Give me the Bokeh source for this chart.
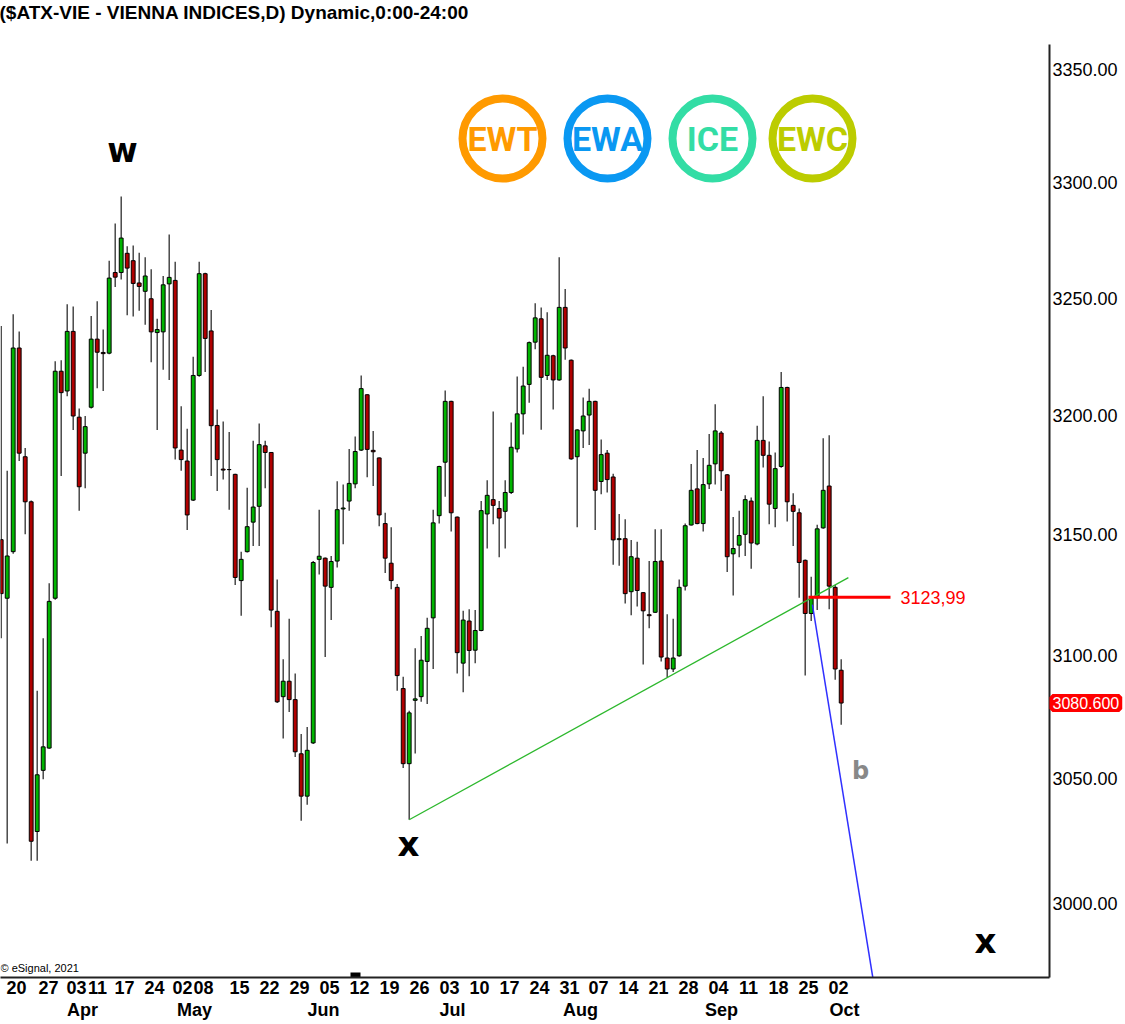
import math
from bokeh.plotting import figure
from bokeh.models import (Range1d, FixedTicker, PrintfTickFormatter, Label, LabelSet,
                          ColumnDataSource, LinearAxis)
from bokeh.core.properties import value
from bokeh.embed import file_html
from bokeh.resources import INLINE

# ---------------- data (daily candles) ----------------
opens = [3147.9, 3123.6, 3142.9, 3228.7, 3182.6, 3163.7, 3028.7, 3053.3, 3062.3, 3123.6,
         3218.8, 3210.4, 3235.8, 3199.3, 3184.1, 3203.5, 3232.5, 3226.8, 3226.5, 3261.1,
         3261.1, 3269.4, 3266.2, 3256.6, 3253.0, 3249.8, 3235.3, 3235.6, 3256.2, 3257.7,
         3185.4, 3180.8, 3164.4, 3217.0, 3260.6, 3236.0, 3195.8, 3177.4, 3177.2, 3175.2,
         3130.9, 3142.9, 3155.2, 3161.8, 3187.2, 3184.4, 3118.2, 3083.2, 3089.5, 3082.0,
         3060.0, 3042.9, 3064.4, 3139.7, 3140.2, 3128.1, 3139.0, 3160.7, 3164.0, 3171.2,
         3185.4, 3208.8, 3185.3, 3182.1, 3154.6, 3138.1, 3128.1, 3086.5, 3056.0, 3081.7,
         3083.2, 3097.6, 3115.5, 3157.9, 3180.3, 3206.0, 3157.3, 3096.9, 3114.2, 3102.2,
         3110.3, 3158.6, 3164.6, 3160.9, 3159.7, 3167.6, 3185.9, 3200.7, 3213.2, 3231.2,
         3241.2, 3217.0, 3225.4, 3215.1, 3246.1, 3223.5, 3182.6, 3193.5, 3200.2, 3206.0,
         3172.2, 3184.1, 3174.1, 3147.9, 3148.3, 3126.3, 3140.2, 3125.9, 3116.8, 3117.8,
         3139.0, 3099.0, 3094.5, 3099.9, 3128.6, 3154.0, 3169.1, 3154.6, 3171.2, 3179.6,
         3192.6, 3175.0, 3142.0, 3145.6, 3150.1, 3164.0, 3146.1, 3189.5, 3183.2, 3160.9,
         3178.5, 3211.9, 3162.2, 3159.1, 3139.3, 3117.3, 3123.8, 3152.8, 3170.3, 3128.1,
         3094.0]
highs = [3238.1, 3176.7, 3243.1, 3235.8, 3186.3, 3164.2, 3085.6, 3107.1, 3129.8, 3223.1,
         3223.5, 3247.4, 3246.5, 3203.0, 3199.8, 3242.4, 3248.7, 3236.6, 3266.2, 3282.3,
         3294.0, 3272.5, 3272.8, 3269.6, 3267.7, 3262.5, 3241.2, 3259.6, 3277.5, 3265.7,
         3203.9, 3194.4, 3225.0, 3265.7, 3261.0, 3245.0, 3202.6, 3197.5, 3193.0, 3175.4,
         3142.9, 3169.6, 3189.3, 3196.6, 3189.3, 3184.6, 3131.3, 3098.5, 3115.1, 3092.7,
         3068.0, 3070.9, 3139.0, 3160.4, 3140.5, 3141.1, 3172.3, 3170.9, 3185.9, 3191.1,
         3217.0, 3209.0, 3193.5, 3182.3, 3159.1, 3153.1, 3129.5, 3091.3, 3077.5, 3103.0,
         3108.0, 3115.5, 3160.4, 3178.8, 3210.6, 3206.3, 3157.6, 3118.4, 3119.1, 3118.7,
         3164.0, 3172.7, 3201.7, 3164.0, 3172.7, 3197.1, 3216.6, 3220.7, 3231.5, 3247.9,
         3246.1, 3244.0, 3225.8, 3267.7, 3254.0, 3223.8, 3194.2, 3207.6, 3211.4, 3206.3,
         3189.9, 3185.4, 3175.4, 3158.6, 3156.4, 3147.8, 3147.0, 3126.2, 3139.0, 3152.2,
         3152.2, 3117.0, 3115.1, 3131.3, 3154.6, 3179.6, 3185.4, 3182.1, 3192.2, 3204.8,
         3193.5, 3175.3, 3157.3, 3160.0, 3166.4, 3165.5, 3195.7, 3208.2, 3189.0, 3184.4,
         3218.5, 3212.2, 3167.3, 3160.9, 3139.6, 3132.5, 3154.1, 3190.4, 3191.7, 3129.1,
         3098.5]
lows = [3107.1, 3023.9, 3142.0, 3180.8, 3150.1, 3017.0, 3017.0, 3049.7, 3062.0, 3123.0,
        3174.5, 3208.2, 3193.9, 3160.0, 3169.4, 3203.0, 3211.6, 3210.4, 3226.0, 3254.9,
        3258.1, 3242.7, 3242.2, 3244.6, 3238.6, 3222.6, 3193.9, 3219.4, 3215.1, 3181.4,
        3176.7, 3151.9, 3164.0, 3216.5, 3218.5, 3174.5, 3168.2, 3173.0, 3160.4, 3129.1,
        3116.4, 3142.5, 3145.3, 3145.3, 3169.4, 3111.6, 3080.6, 3066.2, 3077.0, 3058.7,
        3033.0, 3039.4, 3064.0, 3133.4, 3099.4, 3114.6, 3136.3, 3146.0, 3160.0, 3169.4,
        3185.0, 3174.0, 3170.3, 3153.5, 3134.0, 3127.3, 3085.6, 3054.2, 3033.4, 3060.1,
        3081.1, 3080.2, 3094.5, 3154.6, 3165.8, 3151.3, 3092.7, 3085.0, 3091.5, 3096.9,
        3110.0, 3144.2, 3154.3, 3140.6, 3144.2, 3167.0, 3184.4, 3192.0, 3205.4, 3228.2,
        3194.0, 3215.1, 3202.6, 3214.7, 3223.7, 3181.3, 3153.1, 3186.3, 3187.5, 3151.9,
        3166.9, 3167.6, 3137.5, 3137.0, 3121.4, 3116.6, 3120.2, 3096.3, 3111.2, 3117.5,
        3097.6, 3091.0, 3093.3, 3099.5, 3126.8, 3153.8, 3154.3, 3151.3, 3169.1, 3170.9,
        3168.2, 3134.5, 3124.7, 3140.6, 3141.1, 3135.8, 3145.6, 3178.1, 3154.3, 3153.1,
        3178.0, 3155.5, 3145.3, 3123.8, 3091.8, 3114.2, 3118.7, 3152.4, 3119.1, 3090.1,
        3071.8]
closes = [3125.5, 3141.1, 3228.7, 3184.1, 3163.7, 3024.8, 3051.5, 3062.8, 3122.3, 3218.8,
          3209.7, 3235.8, 3199.8, 3170.0, 3195.3, 3232.5, 3226.9, 3226.3, 3258.7, 3259.1,
          3276.0, 3263.0, 3256.4, 3255.1, 3259.6, 3235.6, 3236.6, 3255.8, 3259.0, 3186.3,
          3181.4, 3158.2, 3217.0, 3260.6, 3232.8, 3195.7, 3181.4, 3177.0, 3177.2, 3132.2,
          3139.7, 3153.3, 3161.5, 3187.7, 3184.4, 3118.7, 3081.1, 3089.5, 3082.0, 3060.8,
          3042.9, 3061.4, 3138.4, 3141.0, 3128.6, 3138.8, 3160.4, 3161.1, 3171.4, 3184.8,
          3211.4, 3185.7, 3184.7, 3158.2, 3140.2, 3130.9, 3091.8, 3056.0, 3076.6, 3082.3,
          3098.1, 3111.2, 3154.9, 3178.5, 3206.0, 3159.1, 3101.2, 3114.6, 3102.1, 3110.3,
          3160.0, 3166.4, 3162.2, 3156.9, 3167.6, 3186.6, 3200.7, 3212.5, 3231.0, 3241.6,
          3216.2, 3225.6, 3215.1, 3246.1, 3228.7, 3181.7, 3193.9, 3199.8, 3206.0, 3168.5,
          3183.5, 3173.0, 3147.8, 3148.3, 3125.5, 3140.8, 3126.8, 3118.4, 3116.4, 3138.8,
          3099.4, 3094.5, 3099.0, 3128.1, 3153.7, 3168.5, 3154.6, 3170.9, 3179.0, 3193.5,
          3176.7, 3140.8, 3144.2, 3149.6, 3164.6, 3146.5, 3189.5, 3183.2, 3162.7, 3177.6,
          3211.9, 3163.7, 3159.7, 3138.4, 3117.3, 3123.6, 3152.4, 3168.5, 3128.6, 3094.5,
          3080.6]

day_tick_pos = [2.55, 7.88, 12.55, 16.05, 20.55, 25.55, 30.22, 33.72, 39.72, 44.72,
                49.72, 54.72, 59.72, 64.72, 69.72, 74.72, 79.72, 84.72, 89.72, 94.72,
                99.55, 104.55, 109.55, 114.55, 119.55, 124.55, 129.55, 134.55, 139.55]
day_tick_labels = ["20", "27", "03", "11", "17", "24", "02", "08", "15", "22",
                   "29", "05", "12", "19", "26", "03", "10", "17", "24", "31",
                   "07", "14", "21", "28", "04", "11", "18", "25", "02"]
month_pos = [13.55, 32.22, 53.72, 75.22, 96.55, 120.05, 140.55]
month_labels = ["Apr", "May", "Jun", "Jul", "Aug", "Sep", "Oct"]
price_ticks = [3000, 3050, 3100, 3150, 3200, 3250, 3300, 3350]

last_price = 3080.6
level_price = 3123.99
trend_anchor_idx = [68, 111]          # the two lows the green trend line joins
trend_end_idx = 141.2
proj_x = [135.2, 146.7]                # blue projection line
proj_y = [3121.0, 2950.0]

logo_texts = ["EWT", "EWA", "ICE", "EWC"]
logo_colors = ["#FF9A00", "#0A98F2", "#33DDA5", "#BCCC00"]

# ---------------- geometry helpers (pixel layout of the reference) ----------------
X0, DX = 0.7, 6.0
def sx(px):
    return (px - X0) / DX
def sy(py):
    return 3000.0 * math.exp((903.0 - py) / 7561.0)

FONT = "Liberation Sans"
TOP, BOTTOM, RIGHT = 44, 977, 1049
FW, FH = RIGHT, BOTTOM - TOP

p = figure(frame_width=FW, frame_height=FH, y_axis_type="log", y_axis_location="right",
           x_range=Range1d(sx(0), sx(RIGHT)), y_range=Range1d(sy(BOTTOM), sy(TOP)),
           output_backend="svg", toolbar_location=None,
           min_border_left=0, min_border_top=TOP, min_border_right=1125 - RIGHT,
           min_border_bottom=1024 - BOTTOM)
p.outline_line_color = None
p.background_fill_color = "white"
p.border_fill_color = "white"
p.xgrid.visible = False
p.ygrid.visible = False

# price axis (right)
ya = p.yaxis[0]
ya.ticker = FixedTicker(ticks=price_ticks)
ya.formatter = PrintfTickFormatter(format="%.2f")
ya.major_label_text_font = FONT
ya.major_label_text_font_size = "18px"
ya.major_label_text_color = "black"
ya.axis_line_color = "#222222"
ya.axis_line_width = 2
ya.major_tick_line_color = None
ya.minor_tick_line_color = None
ya.major_tick_out = 0
ya.major_tick_in = 0
ya.minor_tick_out = 0
ya.major_label_standoff = 3

# time axis (day numbers)
xa = p.xaxis[0]
xa.ticker = FixedTicker(ticks=day_tick_pos)
xa.major_label_overrides = {pos: lab for pos, lab in zip(day_tick_pos, day_tick_labels)}
xa.major_label_text_font = FONT
xa.major_label_text_font_size = "18px"
xa.major_label_text_font_style = "bold"
xa.major_label_text_color = "black"
xa.axis_line_color = "#222222"
xa.axis_line_width = 2
xa.major_tick_line_color = None
xa.minor_tick_line_color = None
xa.major_tick_out = 0
xa.major_tick_in = 0
xa.minor_tick_out = 0
xa.major_label_standoff = 3

# month names under the day numbers
mx = LinearAxis(ticker=FixedTicker(ticks=month_pos),
                major_label_overrides={pos: lab for pos, lab in zip(month_pos, month_labels)},
                axis_line_color=None, major_tick_line_color=None, minor_tick_line_color=None,
                major_tick_out=0, major_tick_in=0, minor_tick_out=0, major_label_standoff=3,
                major_label_text_font=FONT, major_label_text_font_size="18px",
                major_label_text_font_style="bold", major_label_text_color="black")
p.add_layout(mx, "below")

# candles
n = len(opens)
idx = list(range(n))
tops = [max(o, c) for o, c in zip(opens, closes)]
bots = [min(o, c) for o, c in zip(opens, closes)]
cols = ["#00B400" if c >= o else "#B00000" for o, c in zip(opens, closes)]
src = ColumnDataSource(dict(x=idx, o=opens, h=highs, l=lows, c=closes, top=tops, bot=bots, col=cols))
p.segment(x0="x", y0="l", x1="x", y1="h", source=src, line_color="#3c3c3c", line_width=1.4)
p.vbar(x="x", width=0.64, top="top", bottom="bot", source=src,
       fill_color="col", line_color="black", line_width=1)

# green trend line through two lows, extended
i0, i1 = trend_anchor_idx
l0, l1 = lows[i0], lows[i1]
slope = (math.log(l1) - math.log(l0)) / (i1 - i0)
t_end = math.exp(math.log(l0) + slope * (trend_end_idx - i0))
p.line([i0, trend_end_idx], [l0, t_end], line_color="#2DB82D", line_width=1.3)

# red level line + label
p.line([sx(808), sx(890)], [level_price, level_price], line_color="#FF0000", line_width=3)
p.add_layout(Label(x=sx(900), y=level_price, text="3123,99", text_color="#FF0000",
                   text_font=FONT, text_font_size="18px", text_baseline="middle", text_align="left"))

# blue projection line
p.line(proj_x, proj_y, line_color="#3030FF", line_width=1.5)

# wave labels
for t, px, py, col, fs in [("w", 122, 150, "black", "33px"), ("x", 408, 843, "black", "34px"),
                           ("x", 985, 940, "black", "34px"), ("b", 860, 770, "#888888", "24px")]:
    p.add_layout(Label(x=sx(px), y=sy(py), text=t, text_color=col, text_font="DejaVu Sans",
                       text_font_size=fs, text_font_style="bold",
                       text_align="center", text_baseline="middle"))

# logos
lx = [sx(502), sx(607), sx(712), sx(812)]
ly = [sy(138)] * 4
lsrc = ColumnDataSource(dict(x=lx, y=ly, t=logo_texts, c=logo_colors))
p.scatter(x="x", y="y", source=lsrc, marker="circle", size=80, fill_color="white",
          line_color="c", line_width=8)
p.add_layout(LabelSet(x="x", y="y", text="t", source=lsrc, text_color="c",
                      text_font=value("Roboto"), text_font_size="34px", text_font_style="bold",
                      text_align="center", text_baseline="middle"))

# copyright (inside the plot frame)
p.add_layout(Label(x=sx(0), y=sy(967), text="\u00a9 eSignal, 2021", text_font=FONT,
                   text_font_size="11px", text_color="black", text_align="left",
                   text_baseline="middle"))

# small marker on the time axis
p.quad(left=[sx(350)], right=[sx(360)], top=[sy(972)], bottom=[sy(978)], fill_color="black",
       line_color=None)

# title and last-price tag live in the top side panel so they are not clipped to the frame
p.add_layout(Label(x=sx(-1), y=sy(12), text="($ATX-VIE - VIENNA INDICES,D) Dynamic,0:00-24:00",
                   text_font=FONT, text_font_size="19px", text_font_style="bold",
                   text_color="black", text_align="left", text_baseline="middle"), "above")
p.add_layout(Label(x=sx(1052), y=last_price, text="3080.600", text_color="white",
                   background_fill_color="#FF0000", border_line_color="#FF0000",
                   border_line_width=6, text_font=FONT, text_font_size="16px",
                   text_align="left", text_baseline="middle"), "above")

open("out.html", "w").write(file_html(p, INLINE))
